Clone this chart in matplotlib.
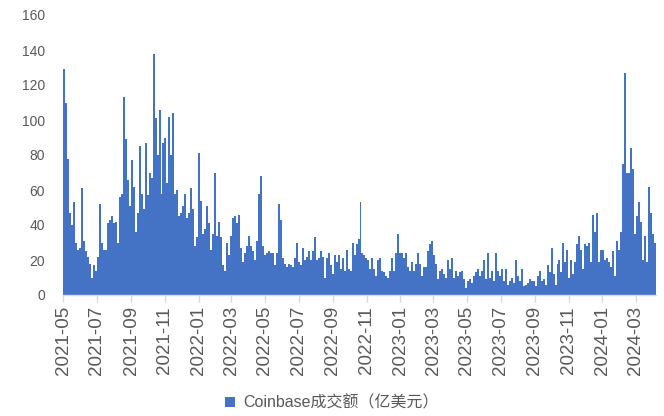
import numpy as np
import pandas as pd
import matplotlib
matplotlib.use('Agg')
import matplotlib.pyplot as plt
import matplotlib.dates as mdates
from matplotlib.patches import Patch

# ---- data (~3.6-day resolution) ----
start_date = '2021-05-01'
end_date = '2024-04-07'
series_name = 'Coinbase成交额（亿美元）'
y_ticks = [0, 20, 40, 60, 80, 100, 120, 140, 160]

vol_2021a = [129, 110, 78, 47, 40, 53, 30, 26, 27, 61, 31, 25, 22, 18, 10, 17, 14, 22, 52, 30,
             26, 26, 41, 43, 45, 41, 42, 30, 56, 58, 113, 89, 66, 51, 77, 62, 36, 47, 85, 58, 49]
vol_2021b = [87, 57, 70, 67, 138, 101, 80, 106, 58, 87, 90, 64, 102, 80, 104, 58, 60, 45, 47, 51,
             58, 44, 47, 61, 49, 28, 33, 81, 54, 35, 38, 51, 41, 26, 35, 70, 34, 42, 33, 17, 14]
vol_2022a = [30, 23, 34, 44, 45, 41, 46, 27, 19, 24, 28, 34, 28, 25, 20, 31, 58, 68, 28, 23,
             24, 25, 24, 24, 17, 24, 52, 43, 21, 18, 16, 18, 17, 16, 21, 30, 19, 17, 27, 20, 22, 25, 20]
vol_2022b = [25, 33, 20, 21, 25, 22, 10, 21, 24, 17, 12, 23, 19, 23, 15, 21, 14, 26, 15, 14,
             30, 23, 29, 32, 53, 24, 23, 21, 20, 15, 21, 15, 11, 20, 21, 14, 13, 11, 10, 14, 21]
vol_2023a = [14, 24, 35, 24, 24, 21, 24, 16, 14, 19, 14, 18, 24, 18, 11, 16, 16, 25, 29, 31,
             23, 18, 9, 14, 15, 12, 10, 20, 15, 21, 10, 14, 11, 13, 14, 9, 4, 8, 9, 7, 11, 13]
vol_2023b = [15, 11, 14, 20, 9, 24, 10, 14, 8, 24, 14, 11, 15, 8, 15, 6, 8, 10, 7, 20,
             11, 8, 15, 5, 6, 7, 9, 8, 8, 5, 11, 14, 8, 9, 6, 17, 13, 27, 12, 6, 18]
vol_2024 = [20, 13, 30, 19, 26, 10, 20, 12, 19, 29, 34, 26, 15, 29, 28, 30, 19, 46, 36, 47,
            19, 26, 26, 20, 21, 19, 16, 25, 11, 31, 26, 36, 75, 127, 70, 70, 84, 72, 35, 45,
            53, 42, 20, 34, 19, 62, 47, 35, 30]

volume = vol_2021a + vol_2021b + vol_2022a + vol_2022b + vol_2023a + vol_2023b + vol_2024

# ---- plot ----
dates = pd.date_range(start_date, end_date, periods=len(volume) + 1)[:-1]
x = mdates.date2num(dates)
step = x[1] - x[0]

W, H = 664, 416
fig = plt.figure(figsize=(W / 100, H / 100), dpi=100)
fig.patch.set_facecolor('white')
ax = fig.add_axes([63 / W, 1 - 295 / H, (656 - 63) / W, 280 / H])

bar_color = '#4472C4'
text_color = '#595959'
ax.bar(x, volume, width=step, align='edge', color=bar_color, linewidth=0)

ax.set_xlim(x[0], x[-1] + step)
ax.set_ylim(0, 160)
ax.set_yticks(y_ticks)

ax.xaxis.set_major_locator(mdates.MonthLocator(bymonth=[1, 3, 5, 7, 9, 11]))
ax.xaxis.set_major_formatter(mdates.DateFormatter('%Y-%m'))

for s in ['left', 'top', 'right']:
    ax.spines[s].set_visible(False)
ax.spines['bottom'].set_color('#D9D9D9')
ax.spines['bottom'].set_linewidth(1.0)

ax.tick_params(axis='y', length=0, pad=13, labelsize=10, labelcolor=text_color)
ax.tick_params(axis='x', length=5, width=1, color='#D9D9D9', direction='out',
               pad=3, labelsize=13.5, labelcolor=text_color, labelrotation=90)
for lab in ax.get_xticklabels() + ax.get_yticklabels():
    lab.set_fontfamily(['Liberation Sans', 'DejaVu Sans'])

handle = Patch(facecolor=bar_color, edgecolor='none')
fig.legend([handle], [series_name], loc='center', bbox_to_anchor=(0.5, 1 - 403 / H),
           frameon=False, handlelength=0.6, handleheight=0.6, handletextpad=0.5,
           prop={'family': ['Liberation Sans', 'Noto Sans CJK SC'], 'size': 11.5},
           labelcolor=text_color)

fig.savefig('out.png', dpi=100, facecolor='white')
